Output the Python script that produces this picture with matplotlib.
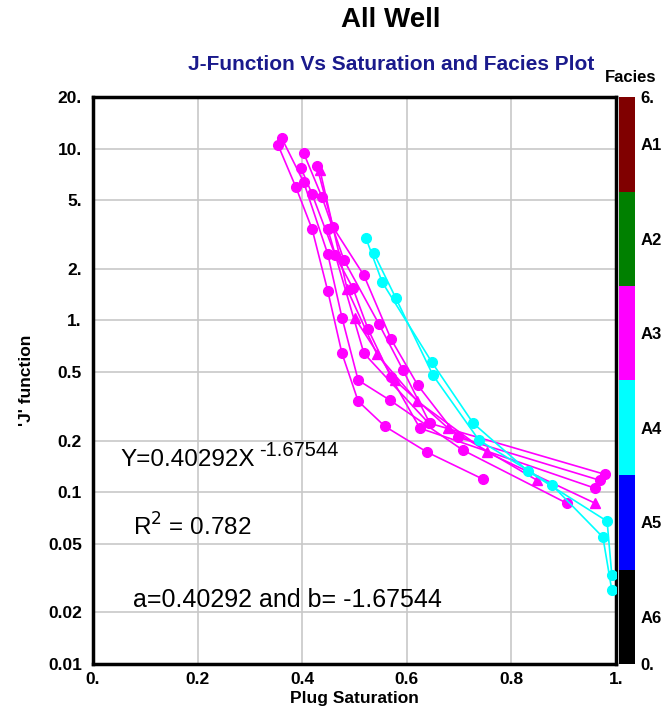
import matplotlib
matplotlib.use("Agg")
import matplotlib.pyplot as plt
from matplotlib.colors import ListedColormap, BoundaryNorm
from matplotlib.colorbar import ColorbarBase

plt.rcParams['font.family'] = ['Liberation Sans', 'DejaVu Sans']

# Facies colour scale (bottom to top: A6 .. A1)
facies_names = ["A6", "A5", "A4", "A3", "A2", "A1"]
facies_colors = ["#000000", "#0000ff", "#00ffff", "#ff00ff", "#008000", "#800000"]

x_ticks = [0.0, 0.2, 0.4, 0.6, 0.8, 1.0]
x_ticklabels = ["0.", "0.2", "0.4", "0.6", "0.8", "1."]
y_ticks = [0.01, 0.02, 0.05, 0.1, 0.2, 0.5, 1, 2, 5, 10, 20]
y_ticklabels = ["0.01", "0.02", "0.05", "0.1", "0.2", "0.5", "1.", "2.", "5.", "10.", "20."]

# Facies A4 samples (saturation, J)
sw_c1 = [0.522, 0.553, 0.648, 0.727, 0.832, 0.983, 0.992]
j_c1 = [3.01, 1.67, 0.571, 0.252, 0.1325, 0.0678, 0.0329]
sw_c2 = [0.537, 0.579, 0.650, 0.738, 0.878, 0.975, 0.992]
j_c2 = [2.46, 1.35, 0.480, 0.201, 0.1098, 0.0547, 0.0269]

# Facies A3 samples, circle markers
sw_m1 = [0.354, 0.388, 0.419, 0.449, 0.476, 0.507, 0.558, 0.639, 0.746]
j_m1 = [10.47, 5.96, 3.40, 1.48, 0.644, 0.339, 0.242, 0.171, 0.119]
sw_m2 = [0.361, 0.403, 0.449, 0.476, 0.507, 0.568, 0.707, 0.906]
j_m2 = [11.5, 6.37, 2.43, 1.04, 0.449, 0.343, 0.176, 0.0863]
sw_m3 = [0.398, 0.419, 0.463, 0.497, 0.526, 0.570, 0.625, 0.960]
j_m3 = [7.69, 5.43, 2.40, 1.54, 0.889, 0.467, 0.236, 0.1055]
sw_m4 = [0.403, 0.438, 0.480, 0.547, 0.593, 0.644, 0.979]
j_m4 = [9.40, 5.21, 2.24, 0.95, 0.513, 0.252, 0.127]
sw_m5 = [0.428, 0.459, 0.518, 0.570, 0.621, 0.698, 0.969]
j_m5 = [7.90, 3.49, 1.83, 0.777, 0.420, 0.209, 0.1174]
sw_m6 = [0.449, 0.518, 0.642]
j_m6 = [3.40, 0.644, 0.252]

# Facies A3 samples, triangle markers
sw_t1 = [0.434, 0.486, 0.543, 0.620, 0.753, 0.960]
j_t1 = [7.49, 1.52, 0.636, 0.339, 0.171, 0.0863]
sw_t2 = [0.501, 0.577, 0.679, 0.849]
j_t2 = [1.03, 0.449, 0.236, 0.1174]

fig = plt.figure(figsize=(6.63, 7.15), dpi=100)
W, H = 663, 715
ax = fig.add_axes([93 / W, 1 - 664 / H, 523 / W, 567 / H])

a3 = facies_colors[3]
a4 = facies_colors[2]
series = [
    (sw_m1, j_m1, a3, "o"), (sw_m2, j_m2, a3, "o"), (sw_m3, j_m3, a3, "o"),
    (sw_m4, j_m4, a3, "o"), (sw_m5, j_m5, a3, "o"), (sw_m6, j_m6, a3, "o"),
    (sw_t1, j_t1, a3, "^"), (sw_t2, j_t2, a3, "^"),
    (sw_c1, j_c1, a4, "o"), (sw_c2, j_c2, a4, "o"),
]
for sw, j, col, mk in series:
    ax.plot(sw, j, color=col, lw=1.2, marker=mk, ms=7, mec=col, mfc=col,
            clip_on=True, zorder=3)

ax.set_yscale("log")
ax.set_xlim(0, 1)
ax.set_ylim(0.01, 20)
ax.set_xticks(x_ticks)
ax.set_xticklabels(x_ticklabels, fontsize=12.5, fontweight="bold")
ax.set_yticks(y_ticks)
ax.set_yticklabels(y_ticklabels, fontsize=12.5, fontweight="bold")
ax.minorticks_off()
ax.tick_params(axis="y", length=0, pad=8)
ax.tick_params(axis="x", length=0, pad=6)
ax.grid(True, color="#c8c8c8", lw=1.2, zorder=0)
for s in ax.spines.values():
    s.set_linewidth(2.5)
    s.set_color("black")
ax.set_xlabel("Plug Saturation", fontsize=12.5, fontweight="bold", labelpad=3)
ax.set_ylabel("'J' function", fontsize=12.5, fontweight="bold", labelpad=10)

# Fit annotations
fig.text(120 / W, 1 - 460 / H, "Y=0.40292X", fontsize=17.5, va="center", ha="left")
fig.text(259 / W, 1 - 450 / H, "-1.67544", fontsize=14.5, va="center", ha="left")
fig.text(133 / W, 1 - 527 / H, "R$^2$ = 0.782", fontsize=17.5, va="center", ha="left")
fig.text(133 / W, 1 - 600 / H, "a=0.40292 and b= -1.67544", fontsize=18,
         va="center", ha="left")

# Titles
fig.text(391 / W, 1 - 20 / H, "All Well", fontsize=20, fontweight="bold",
         ha="center", va="center")
fig.text(391 / W, 1 - 64 / H, "J-Function Vs Saturation and Facies Plot",
         fontsize=15, fontweight="bold", color="#1a1a8c", ha="center", va="center")

# Facies colour bar
cax = fig.add_axes([619 / W, 1 - 664 / H, 16 / W, 567 / H])
cmap = ListedColormap(facies_colors)
norm = BoundaryNorm([0, 1, 2, 3, 4, 5, 6], cmap.N)
cb = ColorbarBase(cax, cmap=cmap, norm=norm, orientation="vertical")
cb.outline.set_visible(False)
cb.set_ticks([0, 0.5, 1.5, 2.5, 3.5, 4.5, 5.5, 6])
cb.set_ticklabels(["0.", "A6", "A5", "A4", "A3", "A2", "A1", "6."])
cax.minorticks_off()
cax.tick_params(which="both", length=0, labelsize=12, pad=4)
for t in cax.get_yticklabels():
    t.set_fontweight("bold")
fig.text(631 / W, 1 - 78 / H, "Facies", fontsize=12, fontweight="bold",
         ha="center", va="center")

fig.savefig("out.png", dpi=100)
